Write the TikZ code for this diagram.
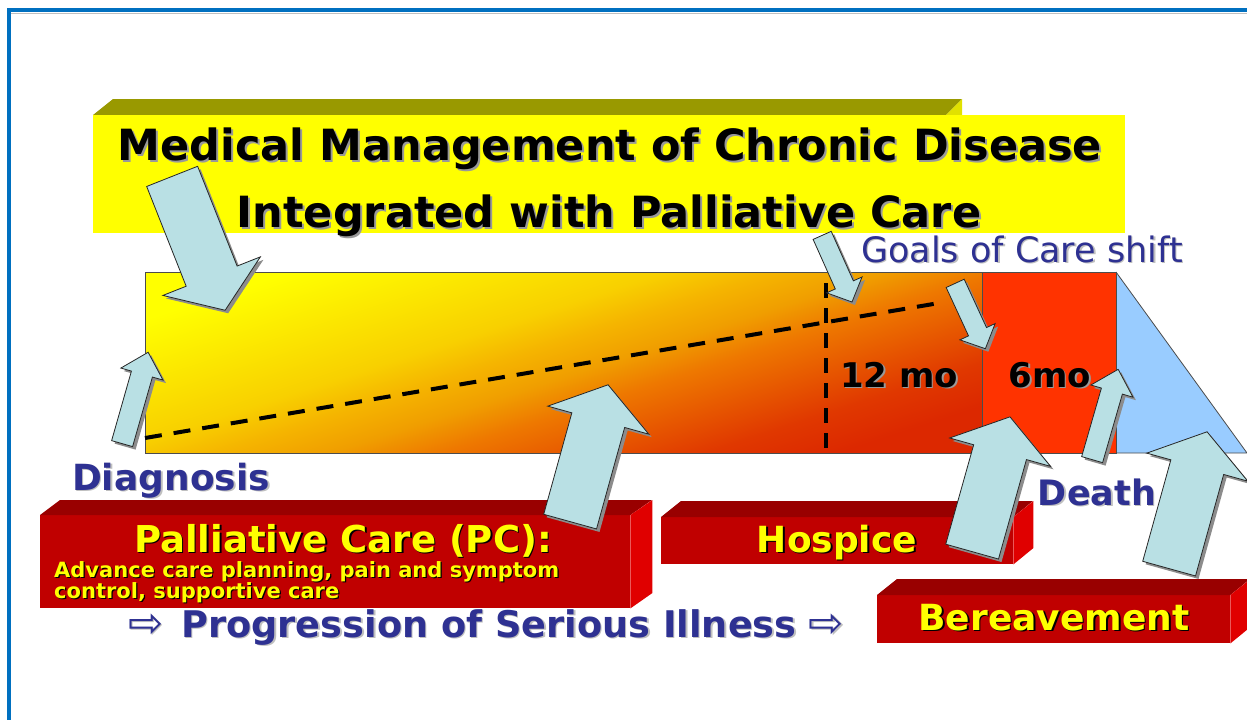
\documentclass[tikz,border=0pt]{standalone}
\usepackage{fontspec}
\setmainfont{DejaVu Sans}
\newfontfamily\arrfont{DejaVu Sans}
\usetikzlibrary{shapes.arrows,shadows}
\definecolor{frameblue}{RGB}{0,112,192}
\definecolor{titleolive}{RGB}{153,153,0}
\definecolor{titlesliver}{RGB}{225,225,0}
\definecolor{navytext}{RGB}{46,49,146}
\definecolor{arrowfill}{RGB}{185,224,228}
\definecolor{boxtop}{RGB}{153,0,0}
\definecolor{boxfront}{RGB}{192,0,0}
\definecolor{boxside}{RGB}{224,0,0}
\definecolor{sixred}{RGB}{255,51,0}
\definecolor{deathblue}{RGB}{153,204,255}
\definecolor{barA}{RGB}{255,255,0}
\definecolor{barB}{RGB}{248,208,0}
\definecolor{barC}{RGB}{245,180,0}
\definecolor{barD}{RGB}{240,158,0}
\definecolor{barE}{RGB}{238,120,0}
\definecolor{barF}{RGB}{224,56,0}
\definecolor{barG}{RGB}{220,40,0}
\definecolor{boxyellow}{RGB}{255,255,0}
\pgfdeclarehorizontalshading{barshade}{100bp}{color(0bp)=(barA); color(25bp)=(barA); color(42bp)=(barB); color(47bp)=(barC); color(52bp)=(barD); color(57bp)=(barE); color(69bp)=(barF); color(75bp)=(barG); color(100bp)=(barG)}
\newcommand\shtxt[3]{\leavevmode\rlap{\kern#1\raisebox{-#1}{\textcolor{#2}{#3}}}#3}
\begin{document}
\begin{tikzpicture}[x=1pt,y=-1pt,
  bigarrow/.style={single arrow, draw=black!85, line width=0.8pt, fill=arrowfill,
    inner xsep=0pt, inner ysep=27pt, minimum width=0pt, single arrow head extend=25pt,
    single arrow tip angle=110, anchor=tail,
    drop shadow={shadow xshift=3pt,shadow yshift=-3pt,fill=black!45,opacity=1}},
  smallarrow/.style={bigarrow, inner ysep=10.5pt, single arrow head extend=11pt,
    single arrow tip angle=88},
  tinyarrow/.style={bigarrow, inner ysep=9.5pt, single arrow head extend=9.5pt,
    single arrow tip angle=92},
  titletext/.style={anchor=base, inner sep=0pt, font=\fontsize{43}{50}\selectfont\bfseries},
  navybold/.style={anchor=base, inner sep=0pt, text=navytext, font=\fontsize{35}{42}\selectfont\bfseries},
  yellowbold/.style={anchor=base, inner sep=0pt, text=boxyellow, font=\fontsize{36}{42}\selectfont\bfseries},
  monthtext/.style={anchor=base, inner sep=0pt, font=\fontsize{34}{40}\selectfont\bfseries},
  redfront/.style={fill=boxfront, inner sep=0pt, anchor=north west},
  bardash/.style={black, line width=4pt, dash pattern=on 17pt off 12pt},
  vdash/.style={black, line width=3.5pt, dash pattern=on 15pt off 10pt}
]
\useasboundingbox (0,0) rectangle (1247,720);
\fill[white] (0,0) rectangle (1247,720);
% frame
\draw[black!25, line width=1pt] (11,13.5) -- (1247,13.5);
\draw[frameblue, line width=4pt] (7,10) -- (1247,10);
\draw[frameblue, line width=3.5pt] (9,8) -- (9,720);

% title banner
\fill[titleolive] (93,115) -- (113,99) -- (962,99) -- (946,115) -- cycle;
\fill[titlesliver] (946,115) -- (962,99) -- (962,115) -- cycle;
\node[fill=boxyellow, minimum width=1032pt, minimum height=118pt, anchor=north west, inner sep=0pt] (titlebox) at (93,115) {};
\node[titletext] (title1) at (610,160) {\shtxt{2pt}{black!40}{Medical Management of Chronic Disease}};
\node[titletext] (title2) at (609,227) {\shtxt{2pt}{black!40}{Integrated with Palliative Care}};

% main bar
\shade[shading=barshade, shading angle=-72] (145,272) rectangle (982,453);
\fill[sixred] (982,272) rectangle (1116,453);
\fill[deathblue] (1116,272) -- (1247,453) -- (1116,453) -- cycle;
\draw[black!70, line width=0.8pt] (145,272) rectangle (1116,453);
\draw[black!70, line width=0.8pt] (982,272) -- (982,453);
\draw[black!70, line width=0.8pt] (1116,272) -- (1247,453) -- (1116,453);
\draw[bardash] (145,438) -- (945,302);
\draw[vdash] (826,283) -- (826,453);
\node[monthtext] (twelve) at (899,387) {\shtxt{1.5pt}{black!40}{12 mo}};
\node[monthtext] (six) at (1050,387) {\shtxt{1.5pt}{black!40}{6mo}};
\node[anchor=base, inner sep=0pt, text=navytext, font=\fontsize{35}{42}\selectfont] (goals) at (1022,262) {\shtxt{1.5pt}{black!25}{Goals of Care shift}};

% red boxes
\node[redfront, minimum width=590pt, minimum height=93pt] (pcbox) at (40,515) {};
\fill[boxtop] (pcbox.north west) -- ++(20,-15) -- ++(592,0) -- (pcbox.north east) -- cycle;
\fill[boxside] (pcbox.north east) -- ++(22,-15) -- ++(0,93) -- (pcbox.south east) -- cycle;
\node[redfront, minimum width=352pt, minimum height=47pt] (hospbox) at (661,517) {};
\fill[boxtop] (hospbox.north west) -- ++(20,-16) -- ++(352,0) -- (hospbox.north east) -- cycle;
\fill[boxside] (hospbox.north east) -- ++(20,-16) -- ++(0,47) -- (hospbox.south east) -- cycle;
\node[redfront, minimum width=353pt, minimum height=48pt] (berbox) at (877,595) {};
\fill[boxtop] (berbox.north west) -- ++(20,-16) -- ++(353,0) -- (berbox.north east) -- cycle;
\fill[boxside] (berbox.north east) -- ++(20,-16) -- ++(0,48) -- (berbox.south east) -- cycle;

\node[yellowbold, font=\fontsize{37}{42}\selectfont\bfseries] (pctitle) at (343,552) {\shtxt{1.5pt}{black}{Palliative Care (PC):}};
\node[anchor=base west, inner sep=0pt, text=boxyellow, font=\fontsize{21}{24}\selectfont\bfseries] (pcsubA) at (54,577) {\shtxt{1.2pt}{black}{Advance care planning, pain and symptom}};
\node[anchor=base west, inner sep=0pt, text=boxyellow, font=\fontsize{21}{24}\selectfont\bfseries] (pcsubB) at (54,598) {\shtxt{1.2pt}{black}{control, supportive care}};
\node[yellowbold] (hospice) at (837,552) {\shtxt{1.5pt}{black}{Hospice}};
\node[yellowbold] (bereave) at (1054,630) {\shtxt{1.5pt}{black}{Bereavement}};

% navy labels
\node[navybold, font=\fontsize{36}{42}\selectfont\bfseries] (diagnosis) at (171,490) {\shtxt{1.5pt}{black!25}{Diagnosis}};
\node[navybold] (death) at (1097,505) {\shtxt{1.5pt}{black!25}{Death}};
\node[navybold, anchor=base west, font=\fontsize{36.7}{42}\selectfont\bfseries] (progress) at (128,637)
  {\shtxt{1.5pt}{black!25}{{\arrfont\mdseries\fontsize{42}{42}\selectfont ⇨}\hspace{18pt}Progression of Serious Illness\hspace{12pt}{\arrfont\mdseries\fontsize{42}{42}\selectfont ⇨}}};

% block arrows
\node[bigarrow, rotate=-68.4, minimum height=144pt] (arrA) at (172,176) {};
\node[bigarrow, rotate=74.5, minimum height=142pt] (arrB) at (570,522) {};
\node[smallarrow, rotate=74.1, minimum height=95pt] (arrC) at (122,444) {};
\node[tinyarrow, rotate=-65.9, minimum height=73pt] (arrD) at (822,235) {};
\node[tinyarrow, rotate=-65.2, minimum height=72pt] (arrE) at (955,283) {};
\node[smallarrow, rotate=73.9, minimum height=94pt] (arrF) at (1092,460) {};
\node[bigarrow, rotate=74.3, minimum height=140pt] (arrG) at (972,552) {};
\node[bigarrow, rotate=74.5, minimum height=142pt] (arrH) at (1169,569) {};
\end{tikzpicture}
\end{document}
